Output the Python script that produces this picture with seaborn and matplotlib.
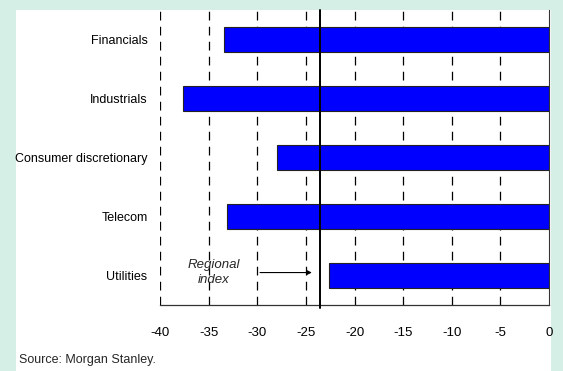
import matplotlib
matplotlib.use("Agg")
import matplotlib.pyplot as plt
from matplotlib.patches import Rectangle
import seaborn as sns
import pandas as pd

sectors = ["Financials", "Industrials", "Consumer discretionary", "Telecom", "Utilities"]
values = [-33.4, -37.6, -28.0, -33.1, -22.6]
regional_index = -23.5
xticks = [-40, -35, -30, -25, -20, -15, -10, -5, 0]

sns.set_style("white")
plt.rcParams["font.family"] = ["Liberation Sans Narrow", "Liberation Sans", "DejaVu Sans"]

df = pd.DataFrame({"sector": sectors, "value": values})

fig = plt.figure(figsize=(5.63, 3.71), dpi=100)
fig.patch.set_facecolor("#d6efe6")
fig.patches.append(Rectangle((16 / 563, 0), (551 - 16) / 563, 361 / 371,
                             transform=fig.transFigure, facecolor="white",
                             edgecolor="none", zorder=-5))

ax = fig.add_axes([160 / 563, 66 / 371, 389 / 563, 295 / 371])
ax.set_facecolor("none")
ax.set_zorder(1)

# dashed grid lines
for x in xticks[:-1]:
    ax.axvline(x, color="black", lw=0.9, ls=(0, (7, 5)), zorder=1)

sns.barplot(data=df, x="value", y="sector", orient="h", color="#0000ff",
            saturation=1, width=0.41, edgecolor="#222222", linewidth=0.8,
            ax=ax, zorder=2)

ax.axvline(regional_index, ymin=-0.01, ymax=1, color="black", lw=1.4,
           zorder=3, clip_on=False)

ax.set_xlim(-40, 0)
ax.set_ylim(4.5, -0.5)
ax.set_xticks(xticks)
ax.set_xticklabels([str(t) for t in xticks], fontsize=9.5)
ax.tick_params(axis="x", direction="in", length=3, width=0.8, pad=16, colors="black")
ax.tick_params(axis="y", length=0, pad=9, labelsize=9, colors="black")
ax.set_xlabel("")
ax.set_ylabel("")

for s in ["top", "left"]:
    ax.spines[s].set_visible(False)
ax.spines["bottom"].set_color("#333333")
ax.spines["bottom"].set_linewidth(0.9)
ax.spines["right"].set_color("#333333")
ax.spines["right"].set_linewidth(0.8)

ax.annotate("", xy=(-24.1, 3.95), xytext=(-30.0, 3.95),
            arrowprops=dict(arrowstyle="-|>", color="black", lw=0.8,
                            mutation_scale=7), zorder=4)
ax.text(-34.5, 3.95, "Regional\nindex", ha="center", va="center",
        fontsize=9.5, style="italic", linespacing=1.35, zorder=4)

fig.text(19 / 563, 1 - 360 / 371, "Source: Morgan Stanley.", fontsize=9,
         ha="left", va="center")

fig.savefig("out.png", dpi=100, facecolor=fig.get_facecolor())
